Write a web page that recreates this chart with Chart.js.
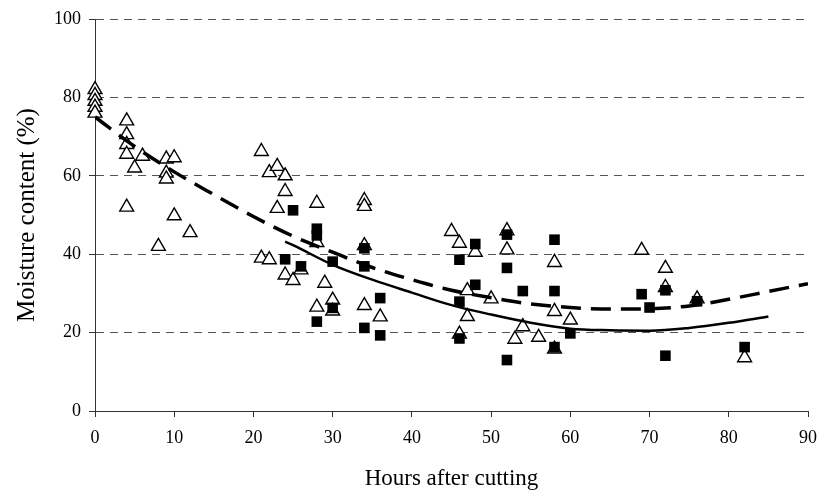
<!DOCTYPE html>
<html lang="en">
<head>
    <meta charset="UTF-8">
    <title>Moisture content after cutting</title>
    <script src="https://cdn.jsdelivr.net/npm/chart.js"></script>
    <style>
        body { margin: 0; background: #fff; }
    </style>
</head>
<body>
    <canvas id="moistureChart" width="820" height="494"></canvas>

    <script>
        // open triangles
        const triangleHours = [0, 0, 0, 0, 0, 4, 4, 4, 4, 4, 5, 6, 8, 9, 9, 9, 10, 10, 12,
            21, 22, 23, 23, 24, 24, 21, 22, 24, 25, 26, 28, 28, 28, 29, 30, 30, 34, 34, 34, 34, 36,
            45, 46, 48, 47, 50, 47, 46, 52, 52, 54, 53, 56, 58, 58, 58, 60, 69, 72, 72, 76, 82];
        const triangleMoisture = [82, 80.5, 79, 77.5, 76, 74, 70.5, 68, 65.5, 52, 62, 65, 42, 64.3, 60.7, 59.2, 64.6, 49.8, 45.5,
            66.2, 60.8, 62.4, 51.7, 60, 56, 39, 38.6, 34.7, 33.3, 36, 53, 43, 26.5, 32.6, 28.3, 25.5, 53.7, 52.2, 42.2, 26.9, 24,
            45.8, 42.8, 40.5, 30.7, 28.6, 24.1, 19.6, 46, 41.1, 21.5, 18.3, 18.8, 37.9, 25.4, 15.8, 23.2, 41, 36.4, 31.5, 28.6, 13.6];

        // filled squares
        const squareHours = [25, 28, 28, 34, 24, 26, 30, 34, 28, 30, 34, 36, 36,
            46, 48, 48, 46, 46, 52, 52, 54, 52, 58, 58, 58, 60, 69, 70, 72, 72, 76, 82];
        const squareMoisture = [51.2, 46.5, 44.8, 41.5, 38.7, 36.9, 38.1, 36.9, 22.8, 26.3, 21.2, 28.8, 19.3,
            38.6, 42.6, 32.2, 27.9, 18.5, 45, 36.5, 30.6, 13, 43.7, 30.6, 16.3, 19.8, 29.8, 26.4, 30.8, 14.1, 28, 16.3];

        // fitted curves
        const dashedHours = [0, 5, 10, 15, 20, 25, 30, 35, 40, 45, 50, 55, 60, 65, 70, 75, 80, 85, 90];
        const dashedMoisture = [75, 67.5, 61, 55.2, 49.6, 44.6, 40.5, 36.6, 33.5, 30.8, 28.9, 27.3, 26.4, 26, 26.1, 26.8, 28.5, 30.5, 32.5];
        const solidHours = [24, 25, 30, 35, 40, 45, 50, 55, 60, 65, 70, 75, 80, 85];
        const solidMoisture = [43.2, 42.3, 37.3, 33.5, 30.2, 27, 24.6, 22.5, 21, 20.6, 20.5, 21.2, 22.5, 24.1];

        const xTicks = [0, 10, 20, 30, 40, 50, 60, 70, 80, 90];
        const yTicks = [0, 20, 40, 60, 80, 100];

        const toPoints = (xs, ys) => xs.map((x, i) => ({ x: x, y: ys[i] }));
        const serif = 'Liberation Serif, Times New Roman, serif';

        new Chart(document.getElementById('moistureChart'), {
            type: 'scatter',
            data: {
                datasets: [
                    {
                        label: 'Dashed fit',
                        data: toPoints(dashedHours, dashedMoisture),
                        showLine: true,
                        pointRadius: 0,
                        borderColor: '#000',
                        borderWidth: 3.5,
                        borderDash: [20, 10],
                        cubicInterpolationMode: 'monotone',
                        order: 0
                    },
                    {
                        label: 'Solid fit',
                        data: toPoints(solidHours, solidMoisture),
                        showLine: true,
                        pointRadius: 0,
                        borderColor: '#000',
                        borderWidth: 2.5,
                        cubicInterpolationMode: 'monotone',
                        order: 1
                    },
                    {
                        label: 'Squares',
                        data: toPoints(squareHours, squareMoisture),
                        pointStyle: 'rect',
                        pointRadius: 7.5,
                        backgroundColor: '#000',
                        borderColor: '#000',
                        borderWidth: 0,
                        clip: false,
                        order: 2
                    },
                    {
                        label: 'Triangles',
                        data: toPoints(triangleHours, triangleMoisture),
                        pointStyle: 'triangle',
                        pointRadius: 8,
                        backgroundColor: '#fff',
                        borderColor: '#000',
                        borderWidth: 1.4,
                        clip: false,
                        order: 3
                    }
                ]
            },
            options: {
                responsive: false,
                animation: false,
                layout: { padding: { top: 19, right: 12, left: 0, bottom: 0 } },
                plugins: {
                    legend: { display: false },
                    tooltip: { enabled: false }
                },
                scales: {
                    x: {
                        type: 'linear',
                        min: 0,
                        max: 90,
                        afterBuildTicks: (scale) => { scale.ticks = xTicks.map(v => ({ value: v })); },
                        afterFit: (scale) => {
                            scale.height = 83;
                            scale.paddingRight = 0;
                            scale.paddingLeft = 0;
                        },
                        ticks: { color: '#000', padding: 10, font: { family: serif, size: 18 } },
                        grid: { drawOnChartArea: false, tickLength: 6, tickColor: '#333' },
                        border: { color: '#333', width: 1 },
                        title: {
                            display: true,
                            text: 'Hours after cutting',
                            color: '#000',
                            font: { family: serif, size: 23 },
                            padding: { top: 0, bottom: 1 }
                        }
                    },
                    y: {
                        min: 0,
                        max: 100,
                        afterBuildTicks: (scale) => { scale.ticks = yTicks.map(v => ({ value: v })); },
                        afterFit: (scale) => { scale.width = 95; },
                        ticks: { color: '#000', padding: 8, font: { family: serif, size: 18 } },
                        grid: {
                            color: (ctx) => ctx.tick && ctx.tick.value === 0 ? 'rgba(0,0,0,0)' : '#555',
                            tickColor: '#333',
                            tickLength: 6,
                            lineWidth: 1
                        },
                        border: { color: '#333', width: 1, dash: [8, 6] },
                        title: {
                            display: true,
                            text: 'Moisture content (%)',
                            color: '#000',
                            font: { family: serif, size: 25 },
                            padding: { top: 12, bottom: 0 }
                        }
                    }
                }
            }
        });
    </script>
</body>
</html>
